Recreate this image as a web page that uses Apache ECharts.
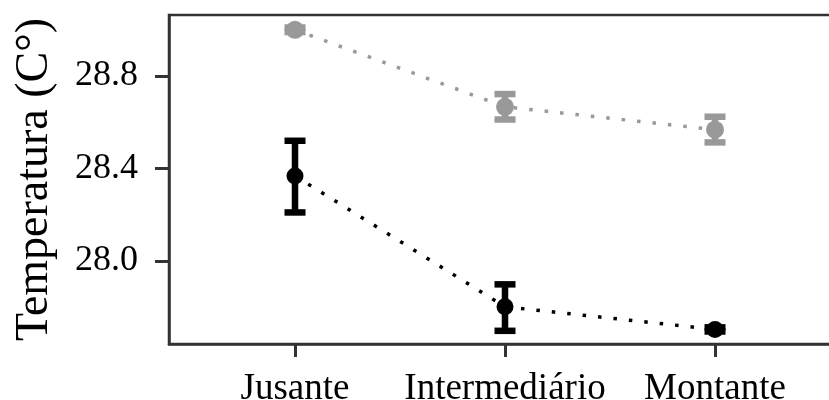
<!DOCTYPE html>
<html>
<head>
<meta charset="utf-8">
<script src="https://cdn.jsdelivr.net/npm/echarts@6/dist/echarts.min.js"></script>
<style>html,body{margin:0;padding:0;background:#fff}#c{width:829px;height:400px}</style>
</head>
<body>
<div id="c"></div>
<script>
var categories = ['Jusante', 'Intermediário', 'Montante'];
var yTicks = [28.0, 28.4, 28.8];
// gray series (upper)
var grayMean = [29.00, 28.667, 28.568];
var grayLow  = [28.99, 28.612, 28.513];
var grayHigh = [29.01, 28.722, 28.624];
// black series (lower)
var blackMean = [28.368, 27.802, 27.704];
var blackLow  = [28.21, 27.698, 27.695];
var blackHigh = [28.52, 27.899, 27.713];

var font = '"Liberation Serif", "DejaVu Serif", serif';
function xy(arr){ return arr.map(function(v,i){ return [i+1, v]; }); }
function eb(lo, hi){ return lo.map(function(v,i){ return [i+1, v, hi[i]]; }); }
function errRender(color){
  return function(params, api){
    var x = api.value(0);
    var p1 = api.coord([x, api.value(1)]);
    var p2 = api.coord([x, api.value(2)]);
    var hw = 10.5;
    var st = {stroke: color, lineWidth: 6.5, fill: null};
    return {type: 'group', children: [
      {type: 'line', shape: {x1: p1[0], y1: p1[1], x2: p2[0], y2: p2[1]}, style: st},
      {type: 'line', shape: {x1: p1[0]-hw, y1: p1[1], x2: p1[0]+hw, y2: p1[1]}, style: st},
      {type: 'line', shape: {x1: p2[0]-hw, y1: p2[1], x2: p2[0]+hw, y2: p2[1]}, style: st}
    ]};
  };
}
var chart = echarts.init(document.getElementById('c'), null, {renderer: 'canvas'});
chart.setOption({
  animation: false,
  backgroundColor: '#fff',
  grid: {left: 169, top: 15, right: -12, bottom: 56, containLabel: false, outerBoundsMode: 'none',
    show: true, borderColor: '#333', borderWidth: 2.5, backgroundColor: 'transparent'},
  xAxis: {
    type: 'value', min: 0.4, max: 3.6,
    splitLine: {show: false},
    axisLine: {show: true, lineStyle: {color: '#333', width: 2.5}},
    axisTick: {show: true, customValues: [1,2,3], length: 13, lineStyle: {color: '#333', width: 3}},
    axisLabel: {customValues: [1,2,3], margin: 27, color: '#000', fontFamily: font, fontSize: 37,
      formatter: function(v){ return categories[Math.round(v)-1] || ''; }}
  },
  yAxis: {
    type: 'value', min: 27.641, max: 29.064,
    name: 'Temperatura (C°)', nameLocation: 'middle', nameGap: 111,
    nameTextStyle: {fontFamily: font, fontSize: 46, color: '#000'},
    splitLine: {show: false},
    axisLine: {show: true, lineStyle: {color: '#333', width: 2.5}},
    axisTick: {show: true, customValues: yTicks, length: 14, lineStyle: {color: '#333', width: 3}},
    axisLabel: {customValues: yTicks, margin: 31, color: '#000', fontFamily: font, fontSize: 36,
      formatter: function(v){ return v.toFixed(1); }}
  },
  series: [
    {type: 'line', data: xy(grayMean), symbol: 'none', z: 1,
      lineStyle: {color: '#999', width: 3.5, type: [3.5, 12]}},
    {type: 'line', data: xy(blackMean), symbol: 'none', z: 1,
      lineStyle: {color: '#000', width: 3.5, type: [3.5, 12]}},
    {type: 'custom', data: eb(grayLow, grayHigh), renderItem: errRender('#999'), z: 2},
    {type: 'custom', data: eb(blackLow, blackHigh), renderItem: errRender('#000'), z: 2},
    {type: 'scatter', data: xy(grayMean), symbolSize: 18, itemStyle: {color: '#999', opacity: 1}, z: 3},
    {type: 'scatter', data: xy(blackMean), symbolSize: 17, itemStyle: {color: '#000', opacity: 1}, z: 3}
  ]
});
</script>
</body>
</html>
